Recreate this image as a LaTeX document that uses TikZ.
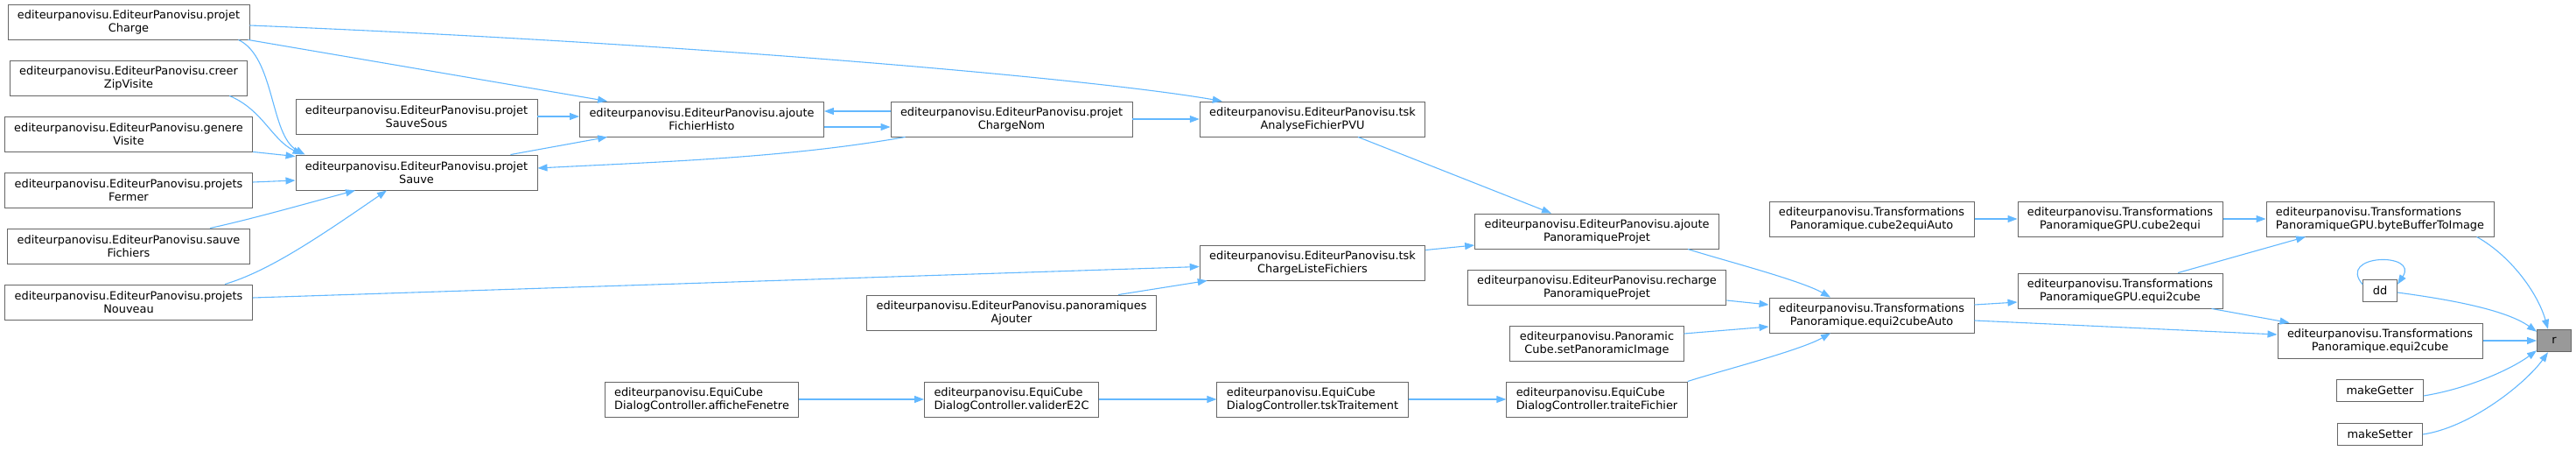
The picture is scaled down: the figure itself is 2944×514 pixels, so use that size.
\documentclass[tikz,border=0pt]{standalone}
\usepackage{fontspec}
\setmainfont{DejaVu Sans}
\usepackage{tikz}
\usetikzlibrary{arrows.meta}
\definecolor{callblue}{HTML}{63B8FF}
\definecolor{boxgray}{HTML}{666666}
\definecolor{rootgray}{HTML}{999999}

\begin{document}
\begin{tikzpicture}[x=1pt,y=-1pt,
    fn/.style={draw=boxgray,fill=white,line width=0.9pt,align=center,inner xsep=11pt,inner ysep=0pt,minimum height=40pt,font=\fontsize{12.9}{15}\selectfont},
    fnl/.style={fn,align=left},
    sn/.style={fn,minimum height=25.5pt,minimum width=39pt},
    cg/.style={draw=callblue,line width=1.1pt,-{Triangle[length=11pt,width=8pt]}}]
  \useasboundingbox (0,0) rectangle (2944,514);
  \node[fn] (pCharge) at (147,25) {editeurpanovisu.EditeurPanovisu.projet\\Charge};
  \node[fn] (creerZip) at (147,89) {editeurpanovisu.EditeurPanovisu.creer\\ZipVisite};
  \node[fn] (genVisite) at (147,153) {editeurpanovisu.EditeurPanovisu.genere\\Visite};
  \node[fn] (pFermer) at (147,217) {editeurpanovisu.EditeurPanovisu.projets\\Fermer};
  \node[fn] (sauveFich) at (147,281) {editeurpanovisu.EditeurPanovisu.sauve\\Fichiers};
  \node[fn] (pNouveau) at (147,345) {editeurpanovisu.EditeurPanovisu.projets\\Nouveau};
  \node[fn] (pSauveSous) at (476,133) {editeurpanovisu.EditeurPanovisu.projet\\SauveSous};
  \node[fn] (pSauve) at (476,197) {editeurpanovisu.EditeurPanovisu.projet\\Sauve};
  \node[fn] (ajHisto) at (802,136) {editeurpanovisu.EditeurPanovisu.ajoute\\FichierHisto};
  \node[fn] (pChargeNom) at (1156,136) {editeurpanovisu.EditeurPanovisu.projet\\ChargeNom};
  \node[fn] (tskAnalyse) at (1500,136) {editeurpanovisu.EditeurPanovisu.tsk\\AnalyseFichierPVU};
  \node[fn] (tskListe) at (1500,300) {editeurpanovisu.EditeurPanovisu.tsk\\ChargeListeFichiers};
  \node[fn] (panoAjout) at (1156,357) {editeurpanovisu.EditeurPanovisu.panoramiques\\Ajouter};
  \node[fnl] (affFenetre) at (802,456) {editeurpanovisu.EquiCube\\DialogController.afficheFenetre};
  \node[fnl] (validE2C) at (1156,456) {editeurpanovisu.EquiCube\\DialogController.validerE2C};
  \node[fnl] (tskTrait) at (1500,456) {editeurpanovisu.EquiCube\\DialogController.tskTraitement};
  \node[fn] (ajPano) at (1825,264) {editeurpanovisu.EditeurPanovisu.ajoute\\PanoramiqueProjet};
  \node[fn] (rechPano) at (1825,328) {editeurpanovisu.EditeurPanovisu.recharge\\PanoramiqueProjet};
  \node[fn] (setPanoImg) at (1825,392) {editeurpanovisu.Panoramic\\Cube.setPanoramicImage};
  \node[fnl] (traiteFich) at (1825,456) {editeurpanovisu.EquiCube\\DialogController.traiteFichier};
  \node[fn] (c2eAuto) at (2139,250) {editeurpanovisu.Transformations\\Panoramique.cube2equiAuto};
  \node[fn] (e2cAuto) at (2139,360) {editeurpanovisu.Transformations\\Panoramique.equi2cubeAuto};
  \node[fn] (c2eGPU) at (2423,250) {editeurpanovisu.Transformations\\PanoramiqueGPU.cube2equi};
  \node[fn] (e2cGPU) at (2423,332) {editeurpanovisu.Transformations\\PanoramiqueGPU.equi2cube};
  \node[fnl] (bbImage) at (2720,250) {editeurpanovisu.Transformations\\PanoramiqueGPU.byteBufferToImage};
  \node[sn] (dd) at (2720,332) {dd};
  \node[fn] (e2cPano) at (2720,389) {editeurpanovisu.Transformations\\Panoramique.equi2cube};
  \node[sn] (mGetter) at (2720,446) {makeGetter};
  \node[sn] (mSetter) at (2720,496) {makeSetter};
  \node[sn,fill=rootgray] (rnode) at (2919,389) {r};

  % left part
  \draw[cg] ([xshift=-13pt]pCharge.south east) .. controls +(42,20) and +(-40,-22) .. ([xshift=11pt]pSauve.north west);
  \draw[cg] ([xshift=-2pt]pCharge.south east) -- ([xshift=32pt]ajHisto.north west);
  \draw[cg] ([yshift=-4pt]pCharge.east) .. controls (800,50) and (1250,90) .. ([xshift=26pt]tskAnalyse.north west);
  \draw[cg] ([xshift=-21pt]creerZip.south east) .. controls +(38,16) and +(-35,-17) .. ([xshift=8pt]pSauve.north west);
  \draw[cg] (genVisite.south east) -- ([yshift=-2pt]pSauve.north west);
  \draw[cg] ([yshift=9pt]pFermer.east) -- ([yshift=-9pt]pSauve.west);
  \draw[cg] ([xshift=93pt]sauveFich.north) .. controls +(50,-11) and +(-56,15) .. ([xshift=-70pt]pSauve.south);
  \draw[cg] ([xshift=110pt]pNouveau.north) .. controls +(50,-15) and +(-80,55) .. ([xshift=-34pt]pSauve.south);
  \draw[cg] ([yshift=5pt]pNouveau.east) -- ([yshift=-4.5pt]tskListe.west);
  \draw[cg] (pSauveSous.east) -- (ajHisto.west |- pSauveSous.east);
  \draw[cg] ([xshift=-31pt]pSauve.north east) -- ([xshift=32pt]ajHisto.south west);
  \draw[cg] ([xshift=17pt]pChargeNom.south west) .. controls +(-135,24) and +(135,-7) .. ([yshift=5pt]pSauve.east);
  \draw[cg] ([yshift=9pt]pChargeNom.west) -- ([yshift=9pt]ajHisto.east);
  \draw[cg] ([yshift=-9pt]ajHisto.east) -- ([yshift=-9pt]pChargeNom.west);
  \draw[cg] (pChargeNom.east) -- (tskAnalyse.west);
  \draw[cg] ([xshift=122pt]panoAjout.north) -- ([xshift=9pt]tskListe.south west);

  % middle part
  \draw[cg] ([xshift=52pt]tskAnalyse.south) -- ([xshift=-52pt]ajPano.north);
  \draw[cg] ([yshift=14.5pt]tskListe.east) -- ([yshift=-16pt]ajPano.west);
  \foreach \a/\b in {affFenetre/validE2C,validE2C/tskTrait,tskTrait/traiteFich,c2eAuto/c2eGPU,c2eGPU/bbImage,e2cPano/rnode} {
    \draw[cg] (\a.east) -- (\b.west);
  }
  \draw[cg] ([xshift=104pt]ajPano.south) .. controls +(30,10) and +(-35,-20) .. ([xshift=-47pt]e2cAuto.north);
  \draw[cg] ([yshift=-15pt]rechPano.east) -- ([yshift=12pt]e2cAuto.west);
  \draw[cg] ([yshift=11pt]setPanoImg.east) -- ([yshift=-13pt]e2cAuto.west);
  \draw[cg] (traiteFich.north east) .. controls +(30,-10) and +(-35,20) .. ([xshift=-47pt]e2cAuto.south);

  % right part
  \draw[cg] ([yshift=12pt]e2cAuto.east) -- ([yshift=-13pt]e2cGPU.west);
  \draw[cg] ([yshift=-6pt]e2cAuto.east) -- ([yshift=7pt]e2cPano.west);
  \draw[cg] ([xshift=66pt]e2cGPU.north) -- ([xshift=-85pt]bbImage.south);
  \draw[cg] ([xshift=-13pt]e2cGPU.south east) -- ([xshift=14pt]e2cPano.north west);
  \draw[cg] ([xshift=-20pt]bbImage.south east) .. controls +(38,21) and +(-12,-42) .. ([xshift=-7pt]rnode.north);
  \draw[cg] (dd.160) .. controls +(-30,-35) and +(25,-37) .. (dd.20);
  \draw[cg] ([yshift=-2pt]dd.east) .. controls +(60,8) and +(-35,-25) .. ([yshift=-3pt]rnode.north west);
  \draw[cg] ([yshift=-6pt]mGetter.east) .. controls +(50,-8) and +(-30,22) .. ([yshift=2pt]rnode.south west);
  \draw[cg] (mSetter.east) .. controls +(55,-8) and +(-25,35) .. ([xshift=-7pt]rnode.south);
\end{tikzpicture}
\end{document}
